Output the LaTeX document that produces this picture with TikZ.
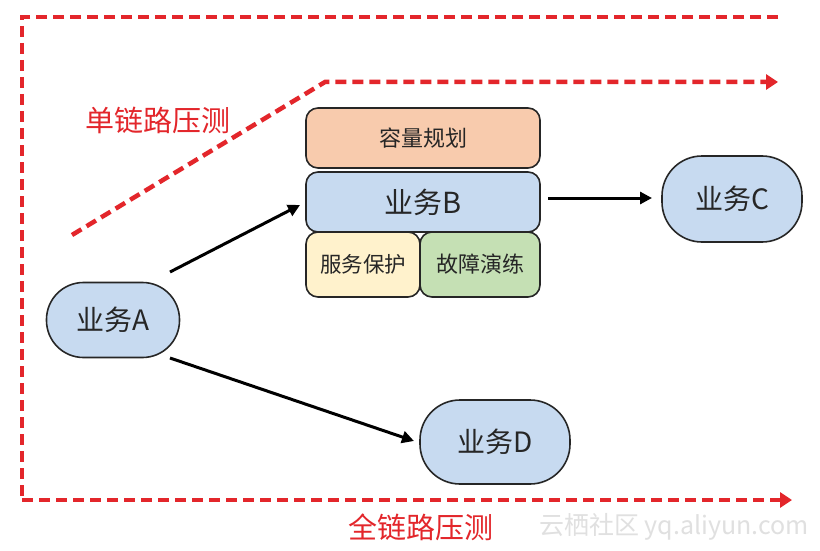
\documentclass[tikz,border=0pt]{standalone}
\usepackage{fontspec}
\setmainfont{Noto Sans CJK SC}
\usetikzlibrary{arrows.meta}
\definecolor{redd}{HTML}{E3262B}
\definecolor{bluef}{HTML}{C7DAF0}
\definecolor{orangef}{HTML}{F8CBAD}
\definecolor{yellowf}{HTML}{FFF2CC}
\definecolor{greenf}{HTML}{C5E0B4}
\definecolor{edge}{HTML}{262626}
\tikzset{
  stadium/.style={draw=edge, line width=1.6pt, fill=bluef, rounded corners=#1, inner sep=0pt, font=\fontsize{28}{30}\selectfont, text=edge},
  boxx/.style={draw=edge, line width=1.6pt, rounded corners=12pt, inner sep=0pt, text=edge},
  flow/.style={line width=3pt, -{Triangle[length=12pt,width=12pt]}},
  redpath/.style={draw=redd, line width=4.5pt, dash pattern=on 11pt off 6pt},
  redarrow/.style={redpath, -{Triangle[length=12pt,width=15pt]}},
  redlabel/.style={text=redd, font=\fontsize{29}{32}\selectfont, inner sep=0pt},
}
\begin{document}
\begin{tikzpicture}[x=1pt,y=-1pt]
\useasboundingbox (0,0) rectangle (820,551);
\fill[white] (0,0) rectangle (820,551);
% nodes
\node[stadium=37pt, minimum width=133pt, minimum height=75pt] (A) at (113,320) {业务A};
\node[boxx, fill=orangef, minimum width=234pt, minimum height=60pt, font=\fontsize{22}{24}\selectfont] (cap) at (423,138) {容量规划};
\node[boxx, fill=bluef, minimum width=234pt, minimum height=60pt, font=\fontsize{29}{31}\selectfont] (B) at (423,202) {业务B};
\node[boxx, fill=yellowf, minimum width=114pt, minimum height=65pt, font=\fontsize{21.5}{24}\selectfont] (prot) at (363,264.5) {服务保护};
\node[boxx, fill=greenf, minimum width=120pt, minimum height=65pt, font=\fontsize{22}{24}\selectfont] (drill) at (480,264.5) {故障演练};
\node[stadium=40pt, minimum width=140pt, minimum height=86pt] (C) at (732,199) {业务C};
\node[stadium=40pt, minimum width=150pt, minimum height=84pt] (D) at (495,442) {业务D};
% connectors
\coordinate (a1) at (170,272);
\coordinate (b1) at (300,205);
\draw[flow] (a1) -- (b1);
\coordinate (b2) at (548,198);
\coordinate (c1) at (652,198);
\draw[flow] (b2) -- (c1);
\coordinate (a2) at (170,358);
\coordinate (d1) at (414,441);
\draw[flow] (a2) -- (d1);
% red dashed paths
\coordinate (o1) at (778,17);
\coordinate (o2) at (22,17);
\coordinate (o3) at (22,500);
\coordinate (o4) at (792,500);
\draw[redpath] (o1) -- (o2) -- (o3);
\draw[redarrow] (o3) -- (o4);
\coordinate (s1) at (72,235);
\coordinate (s2) at (325,82);
\coordinate (s3) at (778,82);
\draw[redarrow] (s1) -- (s2) -- (s3);
% labels
\node[redlabel] (single) at (158,120) {单链路压测};
\node[redlabel] (full) at (421,527) {全链路压测};
\node[text=black!12, font=\fontsize{25}{28}\selectfont, inner sep=0pt] (wm) at (674,527) {云栖社区 yq.aliyun.com};
\end{tikzpicture}
\end{document}
